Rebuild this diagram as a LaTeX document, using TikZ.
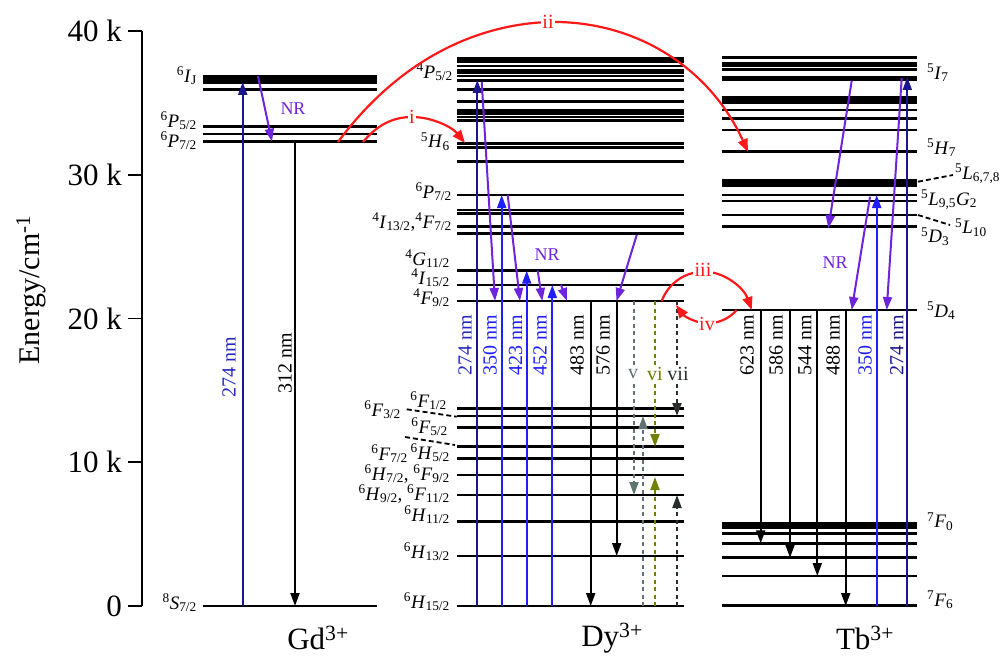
\documentclass[tikz,border=0pt]{standalone}
\usepackage{fontspec}
\setmainfont{Liberation Serif}
\usetikzlibrary{arrows.meta}
\definecolor{navyc}{RGB}{28,22,140}
\definecolor{bluec}{RGB}{30,30,255}
\definecolor{bluet}{RGB}{40,40,190}
\definecolor{purc}{RGB}{110,35,220}
\definecolor{redc}{RGB}{255,25,25}
\definecolor{grayv}{RGB}{95,115,115}
\definecolor{olivev}{RGB}{110,130,0}
\definecolor{darkv}{RGB}{40,45,45}
\newcommand\tm[3]{\textsuperscript{#1}\textit{#2}\textsubscript{#3}}
\begin{document}
\begin{tikzpicture}[x=1pt,y=-1pt,
  lev/.style={line width=2.6pt},
  tr/.style={line width=2pt,-{Triangle[length=13pt,width=9pt]}},
  rarr/.style={draw=redc,line width=2.2pt,-{Triangle[length=13pt,width=10pt]}},
  rl/.style={text=redc,fill=white,inner sep=1.5pt,font=\fontsize{20}{22}\selectfont},
  term/.style={font=\fontsize{19}{21}\selectfont,inner sep=0pt},
  wl/.style={rotate=90,font=\fontsize{20}{22}\selectfont,inner sep=0pt},
  nrl/.style={text=purc,font=\fontsize{18}{20}\selectfont},
  dsh/.style={dash pattern=on 4pt off 3.5pt},
  vl/.style={fill=white,inner sep=1.5pt,font=\fontsize{20}{22}\selectfont},
  big/.style={font=\fontsize{31}{33}\selectfont}
]
\useasboundingbox (0,0) rectangle (1000,663);

% axis
\draw[line width=1.8pt] (142,31) -- (142,606);
\foreach \yy/\tx [count=\i] in {31/40 k,174.75/30 k,318.5/20 k,462.25/10 k,606/0}{
  \draw[line width=1.8pt] (128,\yy) -- (142,\yy);
  \node[anchor=east,inner sep=0pt,big] (tick\i) at (122,\yy) {\tx};
}
\node[rotate=90,font=\fontsize{30}{32}\selectfont] (elab) at (31,290) {Energy/cm\textsuperscript{-1}};

% column labels
\node[big] (gd) at (318,638) {Gd\textsuperscript{3+}};
\node[big] (dy) at (612,638) {Dy\textsuperscript{3+}};
\node[big] (tb) at (865,638) {Tb\textsuperscript{3+}};

% ---------- Gd levels
\foreach \yy in {76.7,79.5,82.5,89.3,126.7,134,141.7,606}
  \draw[lev] (203,\yy) -- (377,\yy);
% ---------- Dy levels
\foreach \yy in {58.3,61.5,66,70.5,73,76,80.3,89.3,101.7,110.7,113.7,117,120.3,143.3,147.3,161.7,195,210,213.3,226.7,233.5,270.7,285,301,408.3,416,427.3,446.7,458.3,475,495,521.7,556,606}
  \draw[lev] (457,\yy) -- (684,\yy);
% ---------- Tb levels
\foreach \yy in {57.3,63.3,65.5,69.3,77.3,79.5,97.3,99.5,102.7,110,118.3,130,151.7,180.7,183.3,185.7,195,201,215,226.7,310,523.3,525.7,527.9,533.3,543.3,557.7,576,605.7}
  \draw[lev] (722,\yy) -- (917,\yy);

% ---------- Gd labels
\node[term,anchor=east] (gIJ) at (197,76) {\textsuperscript{6}\textit{I}\textsubscript{J}};
\node[term,anchor=east] (gP52) at (197,121) {\tm{6}{P}{5/2}};
\node[term,anchor=east] (gP72) at (197,141) {\tm{6}{P}{7/2}};
\node[term,anchor=east] (gS) at (197,603) {\tm{8}{S}{7/2}};

% ---------- Dy labels
\node[term,anchor=east] (dP52) at (453,72) {\tm{4}{P}{5/2}};
\node[term,anchor=east] (dH6) at (450,142) {\tm{5}{H}{6}};
\node[term,anchor=east] (dP72) at (452,192) {\tm{6}{P}{7/2}};
\node[term,anchor=east] (dI13) at (452,222) {\tm{4}{I}{13/2},\tm{4}{F}{7/2}};
\node[term,anchor=east] (dG11) at (450,259) {\tm{4}{G}{11/2}};
\node[term,anchor=east] (dI15) at (450,278) {\tm{4}{I}{15/2}};
\node[term,anchor=east] (dF92) at (450,298) {\tm{4}{F}{9/2}};
\node[term,anchor=east] (dF12) at (447,401) {\tm{6}{F}{1/2}};
\node[term,anchor=east] (dF32) at (401,410) {\tm{6}{F}{3/2}};
\node[term,anchor=east] (dF52) at (448,427) {\tm{6}{F}{5/2}};
\node[term,anchor=east] (dF72) at (408,454) {\tm{6}{F}{7/2}};
\node[term,anchor=east] (dH52) at (450,453) {\tm{6}{H}{5/2}};
\node[term,anchor=east] (dH72) at (450,474) {\tm{6}{H}{7/2}, \tm{6}{F}{9/2}};
\node[term,anchor=east] (dH92) at (450,494) {\tm{6}{H}{9/2}, \tm{6}{F}{11/2}};
\node[term,anchor=east] (dH112) at (450,515) {\tm{6}{H}{11/2}};
\node[term,anchor=east] (dH132) at (450,552) {\tm{6}{H}{13/2}};
\node[term,anchor=east] (dH152) at (450,602) {\tm{6}{H}{15/2}};
\draw[line width=1.8pt,dash pattern=on 5pt off 3pt] (406.7,409.3) -- (456.7,416.7);
\draw[line width=1.8pt,dash pattern=on 5pt off 3pt] (405,437) -- (455,445);

% ---------- Tb labels
\node[term,anchor=west] (tI7) at (927,73) {\tm{5}{I}{7}};
\node[term,anchor=west] (tH7) at (927,148) {\tm{5}{H}{7}};
\node[term,anchor=west] (tL678) at (955,174) {\tm{5}{L}{6,7,8}};
\node[term,anchor=west] (tL95) at (921,200) {\tm{5}{L}{9,5}\textit{G}\textsubscript{2}};
\node[term,anchor=west] (tL10) at (955,228) {\tm{5}{L}{10}};
\node[term,anchor=west] (tD3) at (921,237) {\tm{5}{D}{3}};
\node[term,anchor=west] (tD4) at (927,311) {\tm{5}{D}{4}};
\node[term,anchor=west] (tF0) at (927,522) {\tm{7}{F}{0}};
\node[term,anchor=west] (tF6) at (927,600) {\tm{7}{F}{6}};
\draw[line width=1.8pt,dash pattern=on 5pt off 3pt] (918,181.7) -- (953,175);
\draw[line width=1.8pt,dash pattern=on 5pt off 3pt] (918,215) -- (950,225);

% ---------- Gd transitions
\draw[tr,navyc] (242.7,606) -- (242.7,82);
\draw[tr,purc] (258,76) -- (272,141.7);
\draw[tr,black] (295,141.7) -- (295,606);
\node[nrl] (nrg) at (293,109) {NR};
\node[wl,text=bluet] (wg1) at (229,367) {274 nm};
\node[wl] (wg2) at (285,363) {312 nm};

% ---------- Dy transitions
\draw[tr,navyc] (477.3,606) -- (477.3,80);
\draw[tr,purc] (481.7,81.7) -- (495,301);
\draw[tr,bluec] (501.7,606) -- (501.7,195);
\draw[tr,purc] (507.7,195) -- (520,301);
\draw[tr,bluec] (526.7,606) -- (526.7,270.7);
\draw[tr,purc] (537.7,270.7) -- (542.3,301);
\draw[tr,bluec] (552.3,606) -- (552.3,285);
\draw[tr,purc] (561,285) -- (567,301);
\draw[tr,purc] (636.7,235) -- (616.5,301);
\draw[tr,black] (590.7,301) -- (590.7,606);
\draw[tr,black] (616.7,301) -- (616.7,556);
\node[nrl] (nrd) at (547,255) {NR};
\node[wl,text=bluet] (wd1) at (465,345) {274 nm};
\node[wl,text=bluec] (wd2) at (490,345) {350 nm};
\node[wl,text=bluec] (wd3) at (515.7,345) {423 nm};
\node[wl,text=bluec] (wd4) at (540,345) {452 nm};
\node[wl] (wd5) at (577,345) {483 nm};
\node[wl] (wd6) at (603,345) {576 nm};
% dashed v vi vii
\draw[tr,dsh,grayv] (634,301) -- (634,495);
\draw[tr,dsh,grayv] (643,606) -- (643,416);
\draw[tr,dsh,olivev] (655,301) -- (655,447);
\draw[tr,dsh,olivev] (655,606) -- (655,477);
\draw[tr,dsh,darkv] (677,301) -- (677,416);
\draw[tr,dsh,darkv] (677,606) -- (677,495);
\node[vl,text=grayv] (lv) at (633,374) {v};
\node[vl,text=olivev] (lvi) at (655,374) {vi};
\node[vl,text=darkv] (lvii) at (678,374) {vii};

% ---------- Tb transitions
\draw[tr,black] (760.7,310) -- (760.7,543.3);
\draw[tr,black] (790,310) -- (790,557.7);
\draw[tr,black] (817.3,310) -- (817.3,576);
\draw[tr,black] (845.7,310) -- (845.7,606);
\draw[tr,bluec] (876.7,606) -- (876.7,195);
\draw[tr,navyc] (907.3,606) -- (907.3,77);
\draw[tr,purc] (851.7,80.7) -- (828.3,228.3);
\draw[tr,purc] (870,196.7) -- (851.7,310);
\draw[tr,purc] (901.7,78) -- (886.7,310);
\node[nrl] (nrt) at (835,263) {NR};
\node[wl] (wt1) at (747,345) {623 nm};
\node[wl] (wt2) at (776,345) {586 nm};
\node[wl] (wt3) at (805,345) {544 nm};
\node[wl] (wt4) at (833,345) {488 nm};
\node[wl,text=bluec] (wt5) at (865,345) {350 nm};
\node[wl,text=navyc] (wt6) at (896.7,345) {274 nm};

% ---------- red energy-transfer arrows
\draw[rarr] (363,142) .. controls (378,124) and (394,117) .. (412,117) .. controls (432,117) and (452,127) .. (465,143);
\node[rl] (ri) at (412,117) {i};
\draw[rarr] (338,142) .. controls (395,65) and (470,25) .. (548,22) .. controls (640,20) and (712,72) .. (748,152);
\node[rl] (rii) at (548,22) {ii};
\draw[rarr] (661.7,301) .. controls (668,284) and (684,272) .. (703,271.7) .. controls (724,271) and (744,288) .. (751.7,310);
\node[rl] (riii) at (703,270) {iii};
\draw[rarr] (736.7,310) .. controls (729,319) and (718,323.3) .. (707,323.3) .. controls (696,323.3) and (684,316) .. (676,305);
\node[rl] (riv) at (707,324) {iv};
\end{tikzpicture}
\end{document}
